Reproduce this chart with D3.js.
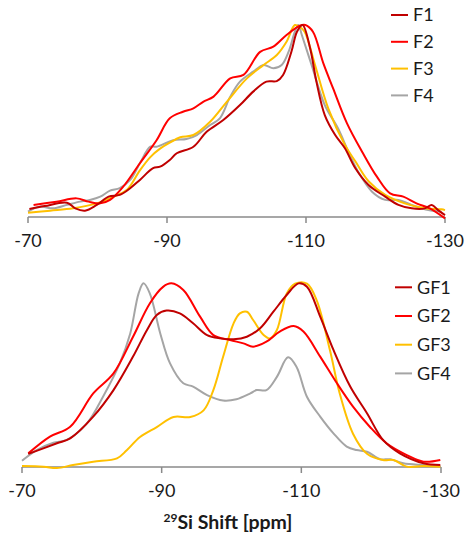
<!DOCTYPE html>
<html lang="en">
<head>
  <meta charset="UTF-8">
  <title>29Si NMR spectra</title>
  <script src="https://d3js.org/d3.v7.min.js"></script>
  <style>
    body {
      margin: 0;
      background: #fff;
      font-family: Lato, "Open Sans", Arial, sans-serif;
    }

    .spectrum {
      fill: none;
      stroke-width: 2px;
      stroke-linejoin: round;
    }

    .axis-line {
      stroke: #8a8a8a;
      stroke-width: 1.5px;
    }

    .tick-label, .legend text {
      font-size: 18px;
      fill: #1a1a1a;
    }
  </style>
</head>
<body>
  <div id="chart"></div>

  <script>
    // x ticks (ppm)
    const tickValues = [-70, -90, -110, -130];

    // Top panel: [shift ppm, normalised intensity %]
    const f1 = [[-70.2, 4.2], [-72.4, 5.7], [-75.6, 7.4], [-76.8, 4.5], [-78.2, 3.3], [-79.9, 6.3],
      [-81.6, 10.6], [-83.2, 11.5], [-84.7, 15], [-86.1, 19.3], [-88, 25.4], [-89, 26.2], [-90.4, 29.7],
      [-91.4, 33.2], [-93.8, 36.6], [-95.7, 44.4], [-98.1, 50.5], [-100.5, 58.3], [-102.4, 65.3],
      [-104.3, 70.5], [-105.8, 70.8], [-106.7, 74], [-107.9, 86.1], [-108.7, 96.5], [-109.5, 100],
      [-110.6, 87.8], [-111.5, 70.5], [-112.7, 53.1], [-114.2, 42.7], [-115.6, 35.8], [-117.1, 25.4],
      [-119, 16.7], [-121.4, 10.6], [-123.3, 6.3], [-125.2, 4.5], [-127.1, 4.5], [-128.1, 6.3],
      [-129, 3.6], [-130, 1]];
    const f2 = [[-70.8, 6.3], [-74.1, 8], [-77, 9.7], [-78.7, 8], [-80.4, 7.1], [-81.8, 8.9],
      [-83.7, 15.8], [-86.1, 28], [-88.5, 40], [-90.4, 51.4], [-92.3, 54.8], [-93.8, 56.6],
      [-95.2, 60], [-96.7, 62.7], [-99.1, 72.2], [-101, 74], [-103.4, 86], [-105.3, 88.7],
      [-107.2, 94.8], [-109.1, 99.6], [-109.9, 100], [-111, 96.5], [-112.5, 80], [-113.9, 67],
      [-115.9, 48.8], [-118.2, 33.2], [-120.2, 21], [-122.1, 12.3], [-124, 10.6], [-125.9, 7.1],
      [-127.8, 4.5], [-130, -0.7]];
    const f3 = [[-70, 2.2], [-73.2, 3.3], [-76.5, 4.5], [-79.9, 7.1], [-82.3, 10.6], [-84.2, 14],
      [-86.1, 24.3], [-87.6, 31.2], [-89, 35.6], [-90.4, 38.7], [-91.9, 41.5], [-93.8, 42.7],
      [-96.2, 49.6], [-98.6, 60], [-101.5, 72.2], [-103.9, 79.2], [-105.8, 84.4], [-107.2, 91.3],
      [-108.4, 100], [-109.1, 99], [-109.8, 96.5], [-111.3, 79.2], [-113.2, 56.6], [-115.6, 37.5],
      [-117.1, 29], [-119, 18.6], [-121.4, 11.5], [-124.2, 7.1], [-127.1, 4.5], [-129.5, 4],
      [-130, 3.6]];
    const f4 = [[-70, 2.8], [-71.7, 5.4], [-73.6, 4.5], [-75.6, 6.3], [-77.5, 8], [-78.9, 8.9],
      [-80.4, 10.6], [-81.8, 13.7], [-83.2, 15], [-84.7, 19.3], [-86.1, 28], [-87.6, 36.6],
      [-88.5, 36.6], [-90.9, 40], [-92.8, 40.6], [-94.3, 42.7], [-96.2, 47.9], [-97.6, 51.4],
      [-99.1, 62.7], [-100.5, 70.5], [-102.4, 75.7], [-103.9, 79.2], [-105.3, 77.5], [-106.5, 79.2],
      [-107.5, 86.1], [-108.4, 96.5], [-108.9, 100], [-109.4, 94.8], [-110.8, 79.2], [-112.7, 58.3],
      [-114.6, 46.2], [-116.1, 34], [-117.5, 23.6], [-119.5, 13.2], [-121.4, 8.9], [-123.3, 8.9],
      [-125.2, 6.3], [-127.6, 3.6], [-129.5, 2.8]];

    // Bottom panel
    const gf1 = [[-70.9, 7.1], [-75, 12.9], [-76.9, 15.6], [-80.2, 27.4], [-83.1, 41.8], [-85.9, 60],
      [-87.9, 74.5], [-89.3, 82.6], [-90.7, 85], [-92.6, 83.5], [-94.5, 78.1], [-96.5, 71.7],
      [-98.4, 69.9], [-100.3, 69.4], [-102.2, 70.8], [-104.1, 75.4], [-106, 84.4], [-107.9, 93.5],
      [-109.6, 99.8], [-110.8, 98], [-112.7, 81.7], [-114.6, 63.6], [-117, 43.7], [-119.4, 29.2],
      [-121.7, 14.7], [-124.1, 7.4], [-127.5, 2], [-129.9, 1.1]];
    const gf2 = [[-70.9, 7.4], [-74, 16.5], [-76.9, 21.9], [-80.2, 40], [-83.1, 50.9], [-85.9, 70.8],
      [-88.3, 88.9], [-90.2, 97.9], [-91.4, 99.8], [-93.1, 96.2], [-95.5, 81.7], [-97.4, 71.7],
      [-99.8, 69], [-101.7, 67.2], [-103.1, 65.4], [-105, 68.1], [-106.9, 73.6], [-108.9, 76.6],
      [-110.3, 73.6], [-112.7, 60], [-115.1, 45.5], [-117.4, 32.8], [-119.8, 21.9], [-122.2, 12.9],
      [-125.1, 6.5], [-127.5, 2.9], [-129.9, 3.8]];
    const gf3 = [[-70, 0.5], [-73.1, 0.2], [-75, -0.6], [-77.3, 1.1], [-80.2, 2.9], [-83.6, 4.7],
      [-85, 9.1], [-86.9, 16.3], [-89.3, 21.7], [-91.7, 27.2], [-94.1, 27.2], [-96, 30.8],
      [-97.4, 41.8], [-98.8, 59.9], [-100.3, 78.1], [-101.2, 83.5], [-102.2, 84.4], [-103.1, 79.9],
      [-104.6, 71.7], [-105.5, 69.9], [-106.5, 74.5], [-107.9, 94.2], [-109.1, 99.6], [-110.8, 99.6],
      [-112.2, 90.6], [-114.1, 63.4], [-115.5, 39.9], [-117.4, 18.1], [-119.4, 7.2], [-121.7, 3.8],
      [-123.2, 3.8], [-125.1, 0.2], [-127.5, 0.5], [-129.9, 0.2]];
    const gf4 = [[-70, 3.4], [-72.1, 9.2], [-74.5, 13.2], [-76.4, 14.7], [-79.3, 23.7], [-81.6, 38.2],
      [-84, 56.3], [-85.5, 72.6], [-86.7, 94.4], [-87.4, 99.8], [-88.3, 94.4], [-89.8, 72.6],
      [-91.2, 56.3], [-93.1, 45.5], [-94.5, 43.7], [-96.5, 39.1], [-98.8, 36.1], [-100.7, 36.8],
      [-102.7, 40], [-103.6, 41.8], [-105, 41.8], [-106.5, 49], [-108.1, 59.6], [-109.3, 54.5],
      [-110.8, 38.2], [-112.7, 27.4], [-114.6, 18.3], [-116.5, 11.1], [-117.9, 9.2], [-119.4, 8.3],
      [-121.3, 4.2], [-122.7, 4.2], [-124.6, 2], [-127.5, 1.1], [-129.9, 0.5]];

    const topNames = ['F1', 'F2', 'F3', 'F4'];
    const bottomNames = ['GF1', 'GF2', 'GF3', 'GF4'];
    const colors = ['#c00000', '#ff0000', '#ffc000', '#a5a5a5'];

    const width = 465;
    const height = 537;

    const svg = d3.select('#chart')
                  .append('svg')
                  .attr('width', width)
                  .attr('height', height);

    // draw one spectrum panel
    function drawPanel(series, names, x0, x1, yBase, yTop, legend) {
      const x = d3.scaleLinear().domain([-70, -130]).range([x0, x1]);
      const y = d3.scaleLinear().domain([0, 100]).range([yBase, yTop]);

      const line = d3.line()
                     .x(d => x(d[0]))
                     .y(d => y(d[1]))
                     .curve(d3.curveCatmullRom.alpha(0.5));

      const g = svg.append('g');

      // axis
      g.append('line')
       .attr('class', 'axis-line')
       .attr('x1', x0).attr('x2', x1)
       .attr('y1', yBase).attr('y2', yBase);

      g.selectAll('.tick')
       .data(tickValues)
       .enter()
       .append('line')
       .attr('class', 'axis-line')
       .attr('x1', d => x(d)).attr('x2', d => x(d))
       .attr('y1', yBase).attr('y2', yBase + 6);

      g.selectAll('.tick-label')
       .data(tickValues)
       .enter()
       .append('text')
       .attr('class', 'tick-label')
       .attr('x', d => x(d))
       .attr('y', yBase + 30)
       .attr('text-anchor', 'middle')
       .text(d => d);

      // lines, F1 on top so drawn last
      series.map((s, i) => ({ s, i })).reverse().forEach(({ s, i }) => {
        g.append('path')
         .attr('class', 'spectrum')
         .attr('stroke', colors[i])
         .attr('d', line(s));
      });

      // legend
      const lg = g.append('g').attr('class', 'legend');
      names.forEach((n, i) => {
        const ly = legend.y + i * legend.step;
        lg.append('line')
          .attr('x1', legend.x).attr('x2', legend.x + 17)
          .attr('y1', ly).attr('y2', ly)
          .attr('stroke', colors[i])
          .attr('stroke-width', 2);
        lg.append('text')
          .attr('x', legend.x + 22)
          .attr('y', ly)
          .attr('dy', '0.36em')
          .text(n);
      });
    }

    drawPanel([f1, f2, f3, f4], topNames, 28, 445, 217, 25, { x: 391, y: 15, step: 26.8 });
    drawPanel([gf1, gf2, gf3, gf4], bottomNames, 22, 441, 467, 283, { x: 395, y: 287.3, step: 28.7 });

    // x axis title
    const title = svg.append('text')
                     .attr('x', 228)
                     .attr('y', 529)
                     .attr('text-anchor', 'middle')
                     .style('font-size', '19.5px')
                     .style('font-weight', 'bold')
                     .style('fill', '#1a1a1a');
    title.append('tspan')
         .attr('font-size', '12px')
         .attr('dy', '-7')
         .text('29');
    title.append('tspan')
         .attr('dy', '7')
         .text('Si Shift [ppm]');
  </script>
</body>
</html>
